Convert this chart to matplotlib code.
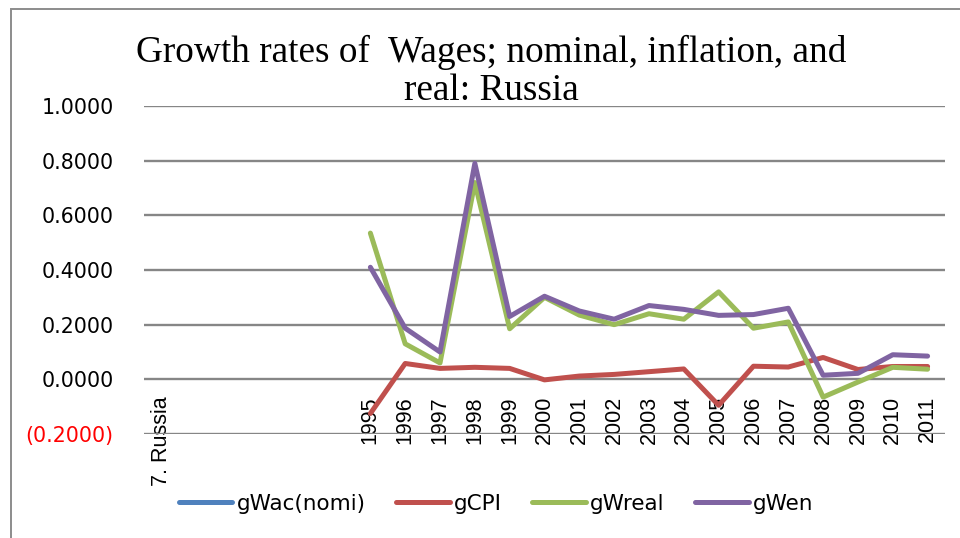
import numpy as np
import matplotlib
matplotlib.use("Agg")
import matplotlib.pyplot as plt
from matplotlib.patches import Rectangle

# categories on the x axis (Excel sheet had a label column then empty cells)
categories = ["7. Russia", "", "", "", "", "",
              "1995", "1996", "1997", "1998", "1999", "2000", "2001", "2002",
              "2003", "2004", "2005", "2006", "2007", "2008", "2009", "2010", "2011"]

blank = [None] * 6
# gWac(nomi) is not visible in the chart
gWac = [None] * 23
gCPI = blank + [-0.125, 0.058, 0.040, 0.044, 0.040, -0.002, 0.012, 0.018,
                0.028, 0.038, -0.095, 0.048, 0.045, 0.080, 0.036, 0.047, 0.047]
gWreal = blank + [0.535, 0.130, 0.060, 0.720, 0.185, 0.300, 0.235, 0.200,
                  0.240, 0.220, 0.320, 0.187, 0.210, -0.065, -0.010, 0.044, 0.037]
gWen = blank + [0.410, 0.187, 0.100, 0.790, 0.230, 0.304, 0.250, 0.220,
                0.270, 0.256, 0.234, 0.237, 0.260, 0.015, 0.022, 0.090, 0.085]

series = [("gWac(nomi)", gWac, "#4F81BD"),
          ("gCPI", gCPI, "#C0504D"),
          ("gWreal", gWreal, "#9BBB59"),
          ("gWen", gWen, "#8064A2")]

yticks = [-0.2, 0.0, 0.2, 0.4, 0.6, 0.8, 1.0]

W, H = 960, 538
fig = plt.figure(figsize=(W / 100, H / 100), dpi=100)
ax = fig.add_axes([144 / W, 1 - 434 / H, (945 - 144) / W, (434 - 106) / H])

x = np.arange(len(categories))
for name, vals, col in series:
    y = np.array([np.nan if v is None else v for v in vals], dtype=float)
    ax.plot(x, y, color=col, lw=3.6, label=name,
            solid_capstyle="round", solid_joinstyle="round")

ax.set_xlim(-0.5, len(categories) - 0.5)
ax.set_ylim(-0.2, 1.0)

# y axis
ax.set_yticks(yticks)
ylabels = []
for v in yticks:
    if v < 0:
        ylabels.append("({:.4f})".format(abs(v)))
    else:
        ylabels.append("{:.4f}".format(v))
ax.set_yticklabels(ylabels, fontsize=14.8, family="DejaVu Sans")
for lab, v in zip(ax.get_yticklabels(), yticks):
    if v < 0:
        lab.set_color("red")
ax.tick_params(axis="y", length=0, pad=22)
ax.yaxis.grid(True, color="#868686", lw=1.7)
ax.set_axisbelow(True)

# category axis crosses at zero
ax.spines["bottom"].set_position(("data", 0))
ax.set_xticks(x)
ax.set_xticklabels(categories, rotation=90, fontsize=15.5, family="Liberation Sans")
ax.tick_params(axis="x", length=0, pad=12)
for s in ["top", "right", "left", "bottom"]:
    ax.spines[s].set_visible(False)

# title (two lines, Times style)
fig.text(491 / W, 1 - 62 / H, "Growth rates of  Wages; nominal, inflation, and",
         ha="center", va="baseline", fontsize=26.8, family="Liberation Serif")
fig.text(491 / W, 1 - 100 / H, "real: Russia",
         ha="center", va="baseline", fontsize=26.8, family="Liberation Serif")

# legend
fig.legend(loc="center", bbox_to_anchor=(496 / W, 1 - 504 / H), ncol=4,
           frameon=False, handlelength=2.5, handletextpad=0.2, columnspacing=1.4,
           prop={"family": "DejaVu Sans", "size": 15.5})

# chart border (cut at right/bottom)
fig.patches.append(Rectangle((11 / W, -0.1), 1.2, 1 - 9 / H + 0.1,
                             transform=fig.transFigure, fill=False,
                             edgecolor="#8c8c8c", lw=1.4))

fig.savefig("out.png", dpi=100)
